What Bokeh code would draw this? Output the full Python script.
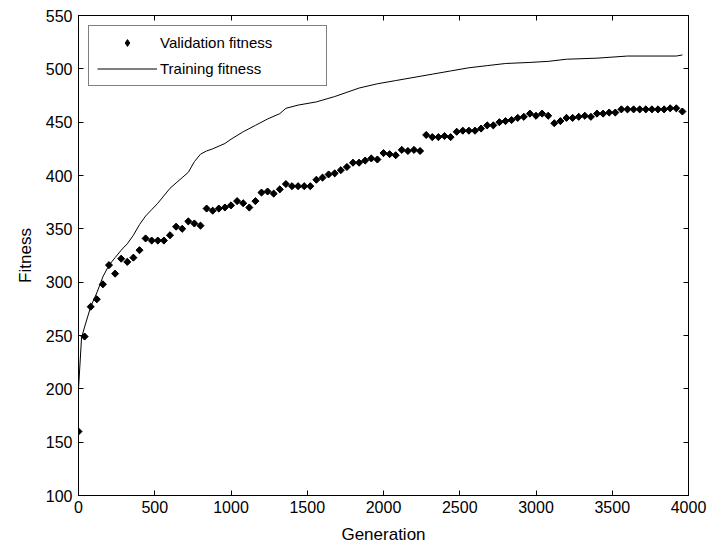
import numpy as np
from bokeh.plotting import figure
from bokeh.models import (LinearAxis, Range1d, FixedTicker, Legend, LegendItem,
                          CustomJSTickFormatter)
from bokeh.embed import file_html
from bokeh.resources import INLINE

# ---- data ----
generation = [0, 40, 80, 120, 160, 200, 240, 280, 320, 360,
              400, 440, 480, 520, 560, 600, 640, 680, 720, 760,
              800, 840, 880, 920, 960, 1000, 1040, 1080, 1120, 1160,
              1200, 1240, 1280, 1320, 1360, 1400, 1440, 1480, 1520, 1560,
              1600, 1640, 1680, 1720, 1760, 1800, 1840, 1880, 1920, 1960,
              2000, 2040, 2080, 2120, 2160, 2200, 2240, 2280, 2320, 2360,
              2400, 2440, 2480, 2520, 2560, 2600, 2640, 2680, 2720, 2760,
              2800, 2840, 2880, 2920, 2960, 3000, 3040, 3080, 3120, 3160,
              3200, 3240, 3280, 3320, 3360, 3400, 3440, 3480, 3520, 3560,
              3600, 3640, 3680, 3720, 3760, 3800, 3840, 3880, 3920, 3960]
validation = [160, 249, 277, 284, 298, 316, 308, 322, 319, 323,
              330, 341, 339, 339, 339, 344, 352, 350, 357, 355,
              353, 369, 367, 369, 370, 372, 376, 374, 370, 376,
              384, 385, 383, 387, 392, 390, 390, 390, 390, 396,
              398, 401, 402, 405, 408, 412, 412, 414, 416, 415,
              421, 420, 419, 424, 423, 424, 423, 438, 436, 436,
              437, 436, 441, 442, 442, 442, 444, 447, 447, 450,
              451, 452, 454, 455, 458, 456, 458, 456, 449, 451,
              454, 454, 455, 456, 455, 458, 458, 459, 459, 462,
              462, 462, 462, 462, 462, 462, 462, 463, 463, 460]

train_gen = [0, 20, 40, 80, 120, 160, 200, 240, 280, 320,
             360, 400, 440, 480, 520, 560, 600, 640, 680, 720,
             760, 800, 840, 880, 960, 1000, 1080, 1160, 1240, 1320,
             1360, 1440, 1560, 1680, 1760, 1840, 1960, 2080, 2200, 2320,
             2440, 2560, 2680, 2800, 2960, 3080, 3200, 3400, 3600, 3920, 3960]
train_fit = [200, 248, 258, 277, 290, 305, 316, 323, 330, 336,
             344, 354, 362, 368, 374, 381, 388, 393, 398, 403,
             413, 420, 423, 425, 430, 434, 441, 447, 453, 458,
             463, 466, 469, 474, 478, 482, 486, 489, 492, 495,
             498, 501, 503, 505, 506, 507, 509, 510, 512, 512, 513]

x_ticks = [0, 500, 1000, 1500, 2000, 2500, 3000, 3500, 4000]
y_ticks = [100, 150, 200, 250, 300, 350, 400, 450, 500, 550]

FONT = "Liberation Sans"
FS = "16px"

p = figure(width=708, height=549, output_backend="svg", toolbar_location=None,
           x_range=Range1d(0, 4000), y_range=Range1d(100, 550),
           min_border_left=78, min_border_right=20, min_border_top=15,
           min_border_bottom=54, background_fill_color="white",
           border_fill_color="white")
p.xgrid.visible = False
p.ygrid.visible = False
p.outline_line_color = "black"
p.outline_line_width = 1


def style_axis(ax, ticks, labels=True):
    ax.ticker = FixedTicker(ticks=ticks)
    ax.minor_tick_line_color = None
    ax.major_tick_in = 5
    ax.major_tick_out = 0
    ax.major_tick_line_color = "black"
    ax.axis_line_color = "black"
    ax.major_label_text_font = FONT
    ax.major_label_text_font_size = FS
    ax.major_label_text_color = "black"
    ax.axis_label_text_font = FONT
    ax.axis_label_text_font_size = "17px"
    ax.axis_label_text_font_style = "normal"
    ax.axis_label_text_color = "black"
    if not labels:
        ax.formatter = CustomJSTickFormatter(code="return ''")


style_axis(p.xaxis[0], x_ticks)
style_axis(p.yaxis[0], y_ticks)
p.xaxis[0].axis_label = "Generation"
p.yaxis[0].axis_label = "Fitness"
p.xaxis[0].major_label_standoff = 5
p.xaxis[0].axis_label_standoff = 9
p.yaxis[0].major_label_standoff = 6
p.yaxis[0].axis_label_standoff = 8

top_ax = LinearAxis()
style_axis(top_ax, x_ticks, labels=False)
p.add_layout(top_ax, "above")
right_ax = LinearAxis()
style_axis(right_ax, y_ticks, labels=False)
p.add_layout(right_ax, "right")

# diamond renderer (used by the legend), covered by the rotated-square markers
r_leg = p.scatter(generation, validation, marker="diamond", size=6,
                  fill_color="black", line_color="black")
r_val = p.scatter(generation, validation, marker="square", angle=np.pi / 4,
                  size=5, fill_color="black", line_color="black")
r_tr = p.line(train_gen, train_fit, line_color="black", line_width=1)

legend = Legend(items=[LegendItem(label="Validation fitness", renderers=[r_leg]),
                       LegendItem(label="Training fitness", renderers=[r_tr])],
                location="top_left")
legend.border_line_color = "black"
legend.border_line_width = 1
legend.background_fill_color = "white"
legend.background_fill_alpha = 1
legend.margin = 10
legend.padding = 8
legend.spacing = 9
legend.glyph_width = 60
legend.glyph_height = 17
legend.label_height = 17
legend.label_width = 158
legend.label_standoff = 3
legend.label_text_font = FONT
legend.label_text_font_size = "15px"
legend.label_text_color = "black"
p.add_layout(legend)

open("out.html", "w").write(file_html(p, INLINE))
